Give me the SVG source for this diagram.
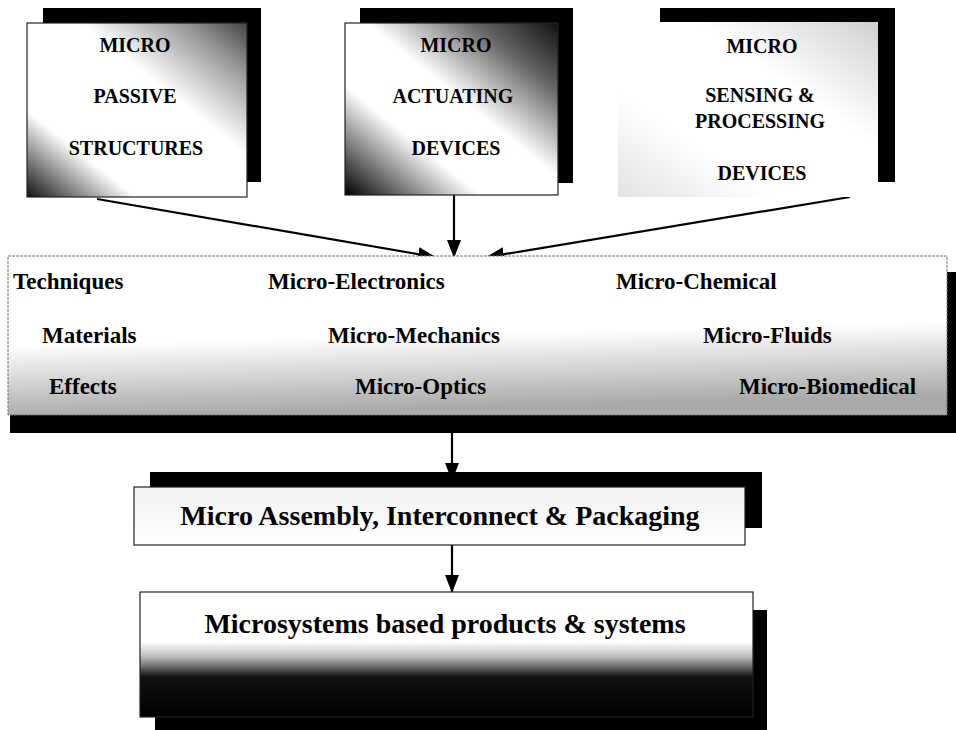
<svg xmlns="http://www.w3.org/2000/svg" width="956" height="730" viewBox="0 0 956 730">
<style>
.t{font-family:"Liberation Serif","Times New Roman",serif;font-weight:bold;fill:#000}
.top{font-size:20px;text-anchor:middle}
.mid{font-size:23px}
.big{font-size:28px;text-anchor:middle}
.shadow{fill:#000}
.edge{stroke:#222;stroke-width:1.2}
.conn{stroke:#000;stroke-width:2.2;fill:none;marker-end:url(#ah)}
</style>
<defs>
<marker id="ah" markerUnits="userSpaceOnUse" markerWidth="18" markerHeight="14" refX="17" refY="7" orient="auto">
<path d="M0,0 L18,7 L0,14 z" fill="#000"/>
</marker>
<linearGradient id="g1" x1="0" y1="1" x2="1" y2="0">
<stop offset="0" stop-color="#111"/>
<stop offset="0.25" stop-color="#fff"/>
<stop offset="0.62" stop-color="#fff"/>
<stop offset="0.85" stop-color="#999"/>
<stop offset="1" stop-color="#444"/>
</linearGradient>
<linearGradient id="g2" x1="0" y1="1" x2="1" y2="0">
<stop offset="0" stop-color="#000"/>
<stop offset="0.32" stop-color="#fff"/>
<stop offset="0.55" stop-color="#fff"/>
<stop offset="0.8" stop-color="#666"/>
<stop offset="1" stop-color="#111"/>
</linearGradient>
<linearGradient id="g3" x1="0" y1="1" x2="1" y2="0">
<stop offset="0" stop-color="#e2e2e2"/>
<stop offset="0.3" stop-color="#fff"/>
<stop offset="0.65" stop-color="#fff"/>
<stop offset="1" stop-color="#d0d0d0"/>
</linearGradient>
<linearGradient id="gm" x1="0" y1="0" x2="0.15" y2="1">
<stop offset="0" stop-color="#fff"/>
<stop offset="0.55" stop-color="#fff"/>
<stop offset="1" stop-color="#aaa"/>
</linearGradient>
<linearGradient id="ga" x1="0" y1="0" x2="0" y2="1">
<stop offset="0" stop-color="#f2f2f2"/>
<stop offset="1" stop-color="#fff"/>
</linearGradient>
<linearGradient id="gb" x1="0" y1="0" x2="0" y2="1">
<stop offset="0" stop-color="#fff"/>
<stop offset="0.4" stop-color="#fff"/>
<stop offset="0.52" stop-color="#bbb"/>
<stop offset="0.68" stop-color="#111"/>
<stop offset="1" stop-color="#000"/>
</linearGradient>
</defs>

<g id="connectors">
<line class="conn" x1="97" y1="199" x2="435" y2="257"/>
<line class="conn" x1="454" y1="195" x2="454" y2="257"/>
<line class="conn" x1="850" y1="197" x2="487" y2="257"/>
<line class="conn" x1="452" y1="432" x2="452" y2="480"/>
<line class="conn" x1="452" y1="545" x2="452" y2="592"/>
</g>

<g id="micro-passive">
<rect class="shadow" x="43" y="8" width="218" height="174"/>
<rect class="edge" x="27" y="23" width="220" height="174" fill="url(#g1)"/>
<text class="t top" x="135" y="52">MICRO</text>
<text class="t top" x="135" y="103">PASSIVE</text>
<text class="t top" x="136" y="155">STRUCTURES</text>
</g>

<g id="micro-actuating">
<rect class="shadow" x="360" y="8" width="213" height="175"/>
<rect class="edge" x="345" y="23" width="213" height="172" fill="url(#g2)"/>
<text class="t top" x="456" y="52">MICRO</text>
<text class="t top" x="453" y="103">ACTUATING</text>
<text class="t top" x="456" y="155">DEVICES</text>
</g>

<g id="micro-sensing">
<rect class="shadow" x="660" y="8" width="235" height="174"/>
<rect x="618" y="22" width="260" height="175" fill="url(#g3)"/>
<text class="t top" x="762" y="53">MICRO</text>
<text class="t top" x="760" y="102">SENSING &amp;</text>
<text class="t top" x="760" y="128">PROCESSING</text>
<text class="t top" x="762" y="180">DEVICES</text>
</g>

<g id="technologies">
<rect class="shadow" x="10" y="272" width="946" height="161"/>
<rect x="8" y="256" width="939" height="159" fill="url(#gm)" stroke="#777" stroke-width="1" stroke-dasharray="3 1"/>
<text class="t mid" x="13" y="289">Techniques</text>
<text class="t mid" x="268" y="289">Micro-Electronics</text>
<text class="t mid" x="616" y="289">Micro-Chemical</text>
<text class="t mid" x="42" y="343">Materials</text>
<text class="t mid" x="328" y="343">Micro-Mechanics</text>
<text class="t mid" x="703" y="343">Micro-Fluids</text>
<text class="t mid" x="49" y="394">Effects</text>
<text class="t mid" x="355" y="394">Micro-Optics</text>
<text class="t mid" x="739" y="394">Micro-Biomedical</text>
</g>

<g id="assembly">
<rect class="shadow" x="150" y="472" width="612" height="56"/>
<rect class="edge" x="134" y="487" width="611" height="58" fill="url(#ga)"/>
<text class="t big" x="440" y="525">Micro Assembly, Interconnect &amp; Packaging</text>
</g>

<g id="products">
<rect class="shadow" x="155" y="610" width="612" height="125"/>
<rect class="edge" x="140" y="592" width="613" height="125" fill="url(#gb)"/>
<text class="t big" x="445" y="633">Microsystems based products &amp; systems</text>
</g>
</svg>
